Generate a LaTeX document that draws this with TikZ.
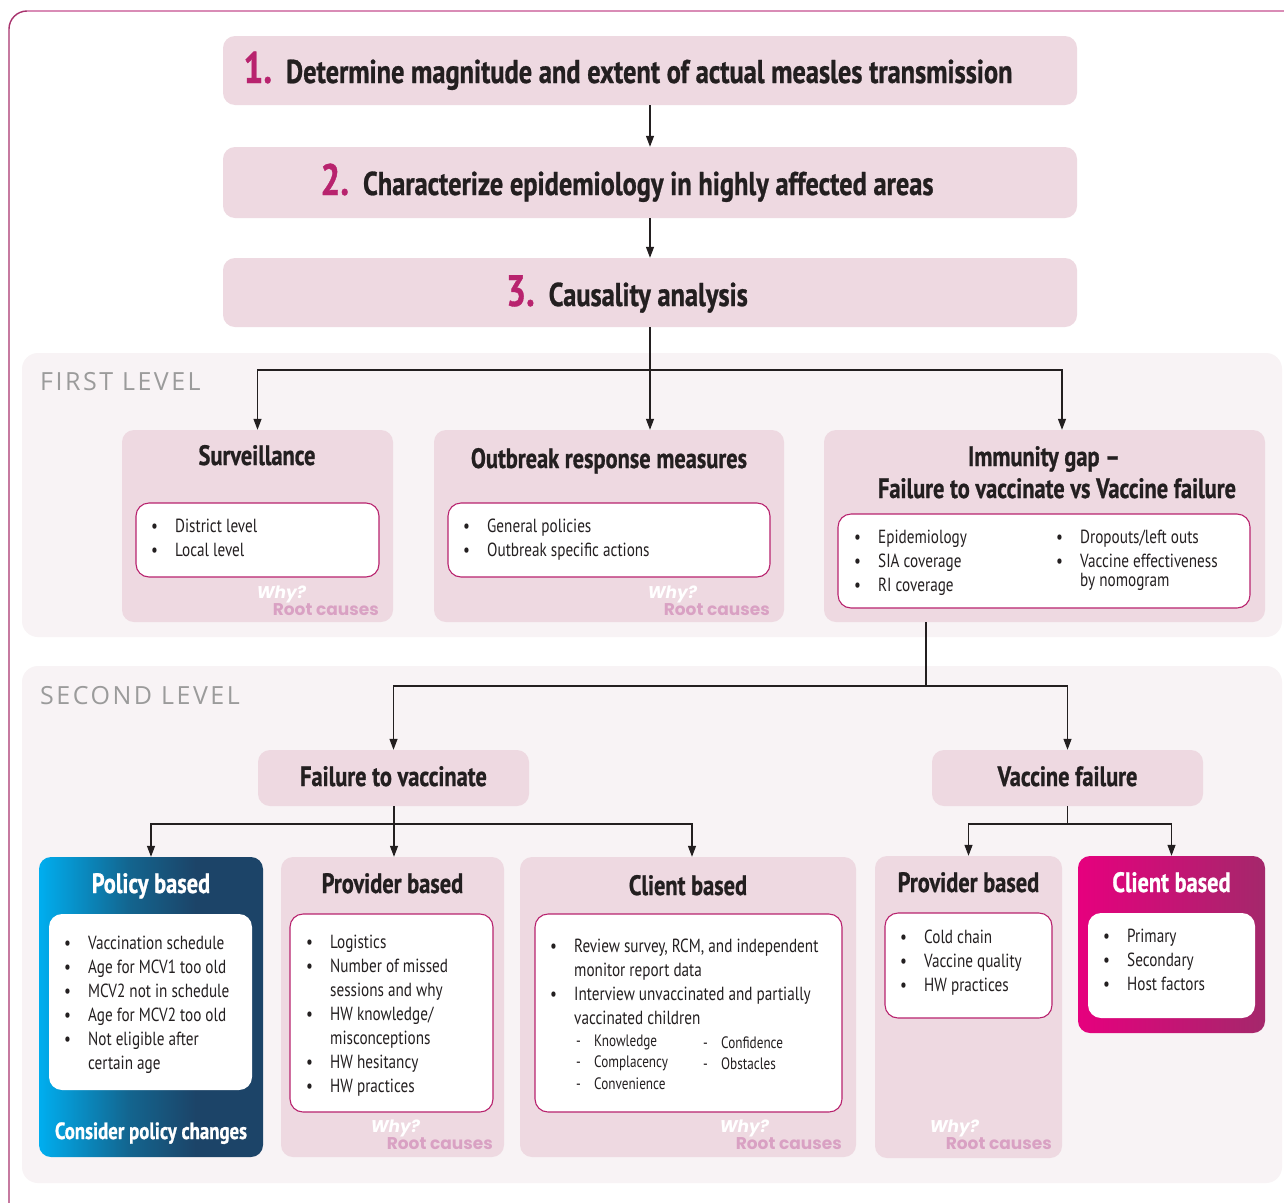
\documentclass[tikz,border=0pt]{standalone}
\usepackage{fontspec}
\setmainfont{PT Sans}[FakeStretch=0.8, BoldFeatures={FakeBold=0.8}]
\newfontfamily\whyfont{Poppins}
\newfontfamily\lvlfont{Open Sans}[LetterSpace=10]
\usetikzlibrary{arrows.meta}
\definecolor{stepfill}{HTML}{EED9E1}
\definecolor{panel}{HTML}{F8F3F5}
\definecolor{mag}{HTML}{B8236E}
\definecolor{ink}{HTML}{231F20}
\definecolor{rootc}{HTML}{D9A1C3}
\definecolor{lvlgray}{HTML}{9B9B9B}
\definecolor{pcyan}{HTML}{00AEEF}
\definecolor{pteal}{HTML}{13658F}
\definecolor{pnavy}{HTML}{1C4468}
\definecolor{cmag}{HTML}{E6007E}
\definecolor{cplum}{HTML}{A4286B}
\definecolor{framedark}{HTML}{A8336E}
\definecolor{framelight}{HTML}{D98CB6}
\pgfdeclarehorizontalshading{policyshade}{100bp}{color(0bp)=(pcyan); color(25bp)=(pcyan); color(45bp)=(pteal); color(60bp)=(pnavy); color(100bp)=(pnavy)}
\pgfdeclarehorizontalshading{clientshade}{100bp}{color(0bp)=(cmag); color(25bp)=(cmag); color(75bp)=(cplum); color(100bp)=(cplum)}
\newcommand\mybul{\makebox[24pt][l]{\textbullet}}
\newcommand\mydash{\makebox[18pt][l]{-}}
\tikzset{
 stepbox/.style={fill=stepfill, rounded corners=12pt, minimum width=854pt, inner sep=0},
 pinkbox/.style={fill=stepfill, rounded corners=12pt, inner sep=0},
 panelbox/.style={fill=panel, rounded corners=16pt, inner sep=0},
 listbox/.style={fill=white, draw=mag, line width=1.1pt, rounded corners=13pt, inner sep=0},
 plainwhite/.style={fill=white, rounded corners=13pt, inner sep=0},
 steptext/.style={font=\fontsize{33}{38}\selectfont\bfseries, text=ink, inner sep=0, anchor=base},
 ttl/.style={font=\fontsize{28}{32}\selectfont\bfseries, text=ink, inner sep=0, anchor=base},
 list/.style={font=\fontsize{19}{24}\selectfont, text=ink, inner sep=0, anchor=base west},
 sublist/.style={font=\fontsize{16.5}{21.5}\selectfont, text=ink, inner sep=0, anchor=base west},
 why/.style={font=\whyfont\fontsize{17}{17}\selectfont\bfseries\itshape, text=white, inner sep=0, anchor=base west},
 root/.style={font=\whyfont\fontsize{17}{17}\selectfont\bfseries, text=rootc, inner sep=0, anchor=base east},
 lvl/.style={font=\lvlfont\fontsize{25}{25}\selectfont, text=lvlgray, inner sep=0, anchor=base west},
 conn/.style={draw=ink, line width=1.2pt},
 arr/.style={conn, -{Triangle[length=11pt,width=8pt]}},
}
\begin{document}
\begin{tikzpicture}[x=1pt,y=-1pt]
\useasboundingbox (0,0) rectangle (1284,1202);
\clip (0,0) rectangle (1284,1202);
\fill[white] (0,0) rectangle (1284,1202);
% outer frame
\draw[framedark, line width=1.4pt] (9,1230) -- (9,29) arc[start angle=180,end angle=90,radius=18pt];
\draw[framelight, line width=1.4pt] (27,11) -- (1300,11);
% level panels
\node[panelbox, minimum width=1260pt, minimum height=284pt] (p1) at (652,495) {};
\node[panelbox, minimum width=1260pt, minimum height=517pt] (p2) at (652,924.5) {};
\node[lvl] (l1) at (40,390) {FIRST LEVEL};
\node[lvl] (l2) at (40,704) {SECOND LEVEL};
% steps
\node[stepbox, minimum height=69pt] (s1) at (650,70.5) {};
\node[stepbox, minimum height=71pt] (s2) at (650,182.5) {};
\node[stepbox, minimum height=69pt] (s3) at (650,292.5) {};
\node[steptext] (t1) at (628,83) {\textcolor{mag}{\fontsize{44}{44}\selectfont 1.}\hspace{14pt}Determine magnitude and extent of actual measles transmission};
\node[steptext] (t2) at (627,195) {\textcolor{mag}{\fontsize{44}{44}\selectfont 2.}\hspace{14pt}Characterize epidemiology in highly affected areas};
\node[steptext] (t3) at (627,306) {\textcolor{mag}{\fontsize{44}{44}\selectfont 3.}\hspace{14pt}Causality analysis};
% first level boxes
\node[pinkbox, minimum width=271pt, minimum height=192pt] (surv) at (257.5,526) {};
\node[listbox, minimum width=243pt, minimum height=74pt] (survin) at (257.5,540) {};
\node[ttl] (survt) at (257,465) {Surveillance};
\node[list] (survl) at (151,532) {\begin{tabular}[t]{@{}l@{}}\mybul District level\\ \mybul Local level\end{tabular}};
\node[root] (r1) at (379,615) {Root causes};
\node[why] (w1) at ([xshift=-16pt,yshift=17pt]r1.base west) {Why?};

\node[pinkbox, minimum width=350pt, minimum height=192pt] (outb) at (609,526) {};
\node[listbox, minimum width=322pt, minimum height=74pt] (outbin) at (609,540) {};
\node[ttl] (outbt) at (609,468) {Outbreak response measures};
\node[list] (outbl) at (463,532) {\begin{tabular}[t]{@{}l@{}}\mybul General policies\\ \mybul Outbreak specific actions\end{tabular}};
\node[root] (r2) at (770,615) {Root causes};
\node[why] (w2) at ([xshift=-16pt,yshift=17pt]r2.base west) {Why?};

\node[pinkbox, minimum width=441pt, minimum height=192pt] (imm) at (1044.5,526) {};
\node[listbox, minimum width=412pt, minimum height=94pt] (immin) at (1044,561) {};
\node[ttl] (immt1) at (1044,466) {Immunity gap --};
\node[ttl] (immt2) at (1057,498) {Failure to vaccinate vs Vaccine failure};
\node[list] (imml1) at (854,543) {\begin{tabular}[t]{@{}l@{}}\mybul Epidemiology\\ \mybul SIA coverage\\ \mybul RI coverage\end{tabular}};
\node[list] (imml2) at (1056,543) {\begin{tabular}[t]{@{}l@{}}\mybul Dropouts/left outs\\ \mybul Vaccine effectiveness\\[-5pt] \hspace{24pt}by nomogram\end{tabular}};
% connectors first level
\draw[arr] (s1.south) -- (s2.north);
\draw[arr] (s2.south) -- (s3.north);
\draw[arr] (s3.south) -- (s3.south |- outb.north);
\coordinate (j1) at (651,370);
\draw[arr] (j1) -| (surv.north);
\draw[arr] (j1) -| ([xshift=17.5pt]imm.north);
% second level
\node[pinkbox, minimum width=271pt, minimum height=56pt] (ftv) at (393.5,778) {};
\node[ttl] (ftvt) at (393.5,786) {Failure to vaccinate};
\node[pinkbox, minimum width=271pt, minimum height=56pt] (vf) at (1067.5,778) {};
\node[ttl] (vft) at (1067.5,786) {Vaccine failure};
\coordinate (j2) at (926,686);
\draw[conn] (imm.south -| j2) -- (j2);
\draw[arr] (j2) -| (ftv.north);
\draw[arr] (j2) -| (vf.north);

% policy based
\node[rounded corners=12pt, shading=policyshade, minimum width=224pt, minimum height=300pt, inner sep=0] (pol) at (151,1007) {};
\node[plainwhite, minimum width=203pt, minimum height=176pt] (polin) at (150.5,1002) {};
\node[ttl, text=white] (polt) at (151,893) {Policy based};
\node[list] (poll) at (64,949) {\begin{tabular}[t]{@{}l@{}}\mybul Vaccination schedule\\ \mybul Age for MCV1 too old\\ \mybul MCV2 not in schedule\\ \mybul Age for MCV2 too old\\ \mybul Not eligible after\\ \hspace{24pt}certain age\end{tabular}};
\node[ttl, text=white, font=\fontsize{23.5}{27}\selectfont\bfseries] (polc) at (151,1139) {Consider policy changes};

% provider based
\node[pinkbox, minimum width=223pt, minimum height=300pt] (prov) at (392.5,1007) {};
\node[listbox, minimum width=203pt, minimum height=198pt] (provin) at (391.5,1013) {};
\node[ttl] (provt) at (392.5,893) {Provider based};
\node[list] (provl) at (306,948) {\begin{tabular}[t]{@{}l@{}}\mybul Logistics\\ \mybul Number of missed\\ \hspace{24pt}sessions and why\\ \mybul HW knowledge/\\ \hspace{24pt}misconceptions\\ \mybul HW hesitancy\\ \mybul HW practices\end{tabular}};
\node[root] (r3) at (493,1149) {Root causes};
\node[why] (w3) at ([xshift=-16pt,yshift=17pt]r3.base west) {Why?};

% client based
\node[pinkbox, minimum width=336pt, minimum height=300pt] (cli) at (688,1007) {};
\node[listbox, minimum width=307pt, minimum height=198pt] (cliin) at (688.5,1013) {};
\node[ttl] (clit) at (688,895) {Client based};
\node[list] (clil) at (550,952) {\begin{tabular}[t]{@{}l@{}}\mybul Review survey, RCM, and independent\\ \hspace{24pt}monitor report data\\ \mybul Interview unvaccinated and partially\\ \hspace{24pt}vaccinated children\end{tabular}};
\node[sublist] (clid1) at (576,1046) {\begin{tabular}[t]{@{}l@{}}\mydash Knowledge\\ \mydash Complacency\\ \mydash Convenience\end{tabular}};
\node[sublist] (clid2) at (703,1048) {\begin{tabular}[t]{@{}l@{}}\mydash Confidence\\ \mydash Obstacles\end{tabular}};
\node[root] (r4) at (842,1149) {Root causes};
\node[why] (w4) at ([xshift=-16pt,yshift=17pt]r4.base west) {Why?};

% vaccine failure provider
\node[pinkbox, minimum width=187pt, minimum height=302pt] (vprov) at (968.5,1007) {};
\node[listbox, minimum width=167pt, minimum height=105pt] (vprovin) at (968.5,965.5) {};
\node[ttl] (vprovt) at (968.5,892) {Provider based};
\node[list] (vprovl) at (900,943) {\begin{tabular}[t]{@{}l@{}}\mybul Cold chain\\ \mybul Vaccine quality\\ \mybul HW practices\end{tabular}};
\node[root] (r5) at (1052,1149) {Root causes};
\node[why] (w5) at ([xshift=-16pt,yshift=17pt]r5.base west) {Why?};

% vaccine failure client
\node[rounded corners=12pt, shading=clientshade, minimum width=187pt, minimum height=177pt, inner sep=0] (vcli) at (1171.5,944.5) {};
\node[plainwhite, minimum width=167pt, minimum height=105pt] (vcliin) at (1171.5,965.5) {};
\node[ttl, text=white] (vclit) at (1171.5,892) {Client based};
\node[list] (vclil) at (1103,942) {\begin{tabular}[t]{@{}l@{}}\mybul Primary\\ \mybul Secondary\\ \mybul Host factors\end{tabular}};

% connectors second level
\coordinate (j3) at (394,824);
\draw[conn] (ftv.south -| j3) -- (j3);
\draw[arr] (j3) -| (pol.north);
\draw[arr] (j3) -- (j3 |- prov.north);
\draw[arr] (j3) -| ([xshift=4pt]cli.north);
\coordinate (j4) at (1067.5,824);
\draw[conn] (vf.south) -- (j4);
\draw[arr] (j4) -| (vprov.north);
\draw[arr] (j4) -| (vcli.north);
\end{tikzpicture}
\end{document}
